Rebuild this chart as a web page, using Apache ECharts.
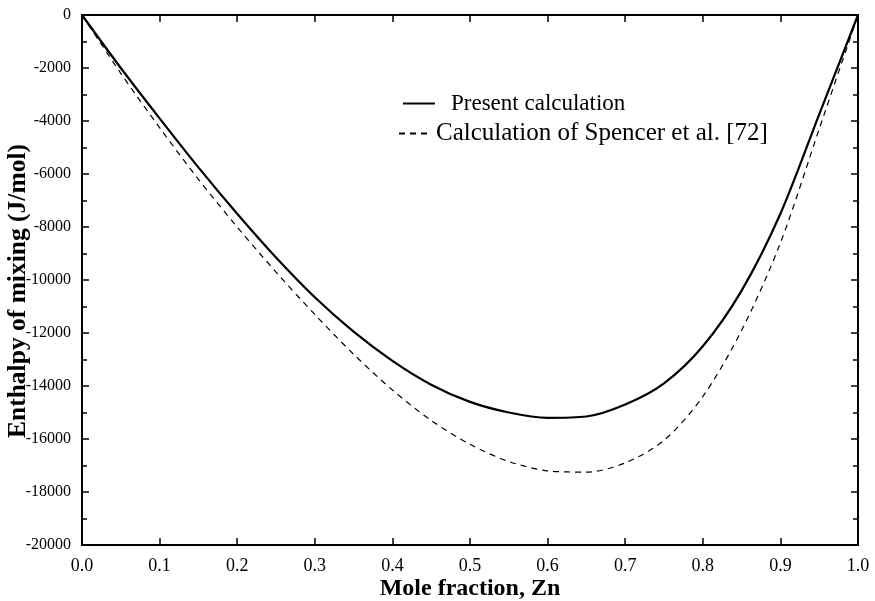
<!DOCTYPE html>
<html>
<head>
<meta charset="utf-8">
<script src="https://cdn.jsdelivr.net/npm/echarts@6/dist/echarts.min.js"></script>
<style>
  html, body { margin: 0; padding: 0; background: #fff; }
  #chart { width: 875px; height: 601px; }
</style>
</head>
<body>
<div id="chart"></div>
<script>
// mole fraction of Zn
var xZn = [0, 0.05, 0.1, 0.15, 0.2, 0.25, 0.3, 0.35, 0.4, 0.45, 0.5,
           0.55, 0.6, 0.65, 0.7, 0.75, 0.8, 0.85, 0.9, 0.95, 1.0];
// enthalpy of mixing, J/mol
var present = [0, -2000, -3900, -5750, -7500, -9150, -10650, -11950, -13050, -13950, -14600,
               -15000, -15200, -15150, -14700, -13900, -12500, -10400, -7500, -3750, 0];
var spencer = [0, -2200, -4250, -6200, -8000, -9700, -11300, -12800, -14150, -15300, -16200,
               -16850, -17200, -17250, -16900, -16050, -14400, -11900, -8600, -4300, 0];

var names = ['Present calculation', 'Calculation of Spencer et al. [72]'];

function pairs(xs, ys) {
    var out = [];
    for (var i = 0; i < xs.length; i++) out.push([xs[i], ys[i]]);
    return out;
}

var chart = echarts.init(document.getElementById('chart'));
var serif = '"Liberation Serif", "DejaVu Serif", serif';
var black = '#000';

var option = {
    animation: false,
    backgroundColor: '#fff',
    grid: { left: 82, right: 17, top: 15, bottom: 56, containLabel: false, outerBoundsMode: 'none' },
    legend: [
        {
            data: [names[0]],
            left: 397, top: 87,
            itemWidth: 32, itemHeight: 14,
            itemStyle: { opacity: 0 },
            textStyle: { fontFamily: serif, fontSize: 23, color: black, padding: [0, 0, 0, 11] }
        },
        {
            data: [names[1]],
            left: 393, top: 116,
            itemWidth: 32, itemHeight: 14,
            itemStyle: { opacity: 0 },
            textStyle: { fontFamily: serif, fontSize: 25, color: black }
        }
    ],
    xAxis: [
        {
            type: 'value', min: 0, max: 1, interval: 0.1,
            name: 'Mole fraction, Zn', nameLocation: 'middle', nameGap: 32, nameMoveOverlap: false,
            nameTextStyle: { fontFamily: serif, fontSize: 24, fontWeight: 'bold', color: black },
            axisLine: { onZero: false, lineStyle: { color: black, width: 2 } },
            axisTick: { inside: true, length: 7, lineStyle: { color: black, width: 1.5 } },
            axisLabel: { margin: 12, fontFamily: serif, fontSize: 18, color: black,
                         formatter: function (v) { return v.toFixed(1); } },
            splitLine: { show: false }
        },
        {
            type: 'value', min: 0, max: 1, interval: 0.1, position: 'top',
            axisLine: { onZero: false, lineStyle: { color: black, width: 2 } },
            axisTick: { inside: true, length: 7, lineStyle: { color: black, width: 1.5 } },
            axisLabel: { show: false },
            splitLine: { show: false }
        }
    ],
    yAxis: [
        {
            type: 'value', min: -20000, max: 0, interval: 2000,
            name: 'Enthalpy of mixing (J/mol)', nameLocation: 'middle', nameGap: 51, nameMoveOverlap: false,
            nameTextStyle: { fontFamily: serif, fontSize: 25.5, fontWeight: 'bold', color: black,
                             padding: [0, 22, 0, 0] },
            axisLine: { onZero: false, lineStyle: { color: black, width: 2 } },
            axisTick: { inside: true, length: 7, lineStyle: { color: black, width: 1.5 } },
            minorTick: { show: true, splitNumber: 2, length: 5, lineStyle: { color: black, width: 1.5 } },
            axisLabel: { margin: 11, fontFamily: serif, fontSize: 16, color: black,
                         formatter: function (v) { return String(v); } },
            splitLine: { show: false }
        },
        {
            type: 'value', min: -20000, max: 0, interval: 2000, position: 'right',
            axisLine: { onZero: false, lineStyle: { color: black, width: 2 } },
            axisTick: { inside: true, length: 7, lineStyle: { color: black, width: 1.5 } },
            minorTick: { show: true, splitNumber: 2, length: 5, lineStyle: { color: black, width: 1.5 } },
            axisLabel: { show: false },
            splitLine: { show: false }
        }
    ],
    series: [
        {
            name: names[0],
            type: 'line',
            data: pairs(xZn, present),
            smooth: 0.3,
            symbol: 'none',
            lineStyle: { color: black, width: 2.2, type: 'solid' },
            itemStyle: { color: black }
        },
        {
            name: names[1],
            type: 'line',
            data: pairs(xZn, spencer),
            smooth: 0.3,
            symbol: 'none',
            lineStyle: { color: black, width: 1.2, type: [6, 5] },
            itemStyle: { color: black }
        }
    ]
};

chart.setOption(option);
</script>
</body>
</html>
